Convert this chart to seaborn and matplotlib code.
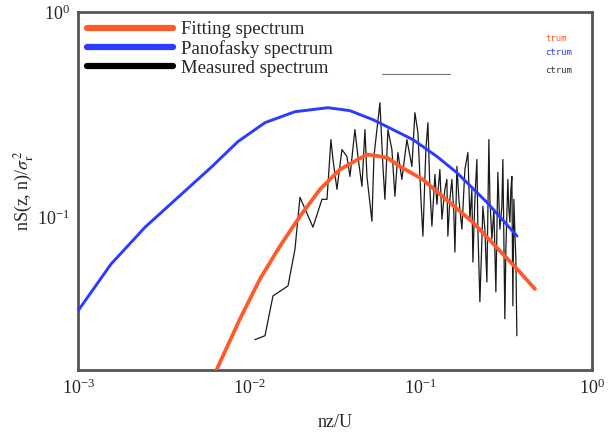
import numpy as np
import pandas as pd
import matplotlib
matplotlib.use('Agg')
import matplotlib.pyplot as plt
import seaborn as sns
from matplotlib.lines import Line2D

# gemeten spectrum (ruw)
meet_nz = [0.01079, 0.01235, 0.01375, 0.01683, 0.01849, 0.01977, 0.02355, 0.02658, 0.02843, 0.02999,
           0.03082, 0.03251, 0.03477, 0.03718, 0.03873, 0.0414, 0.04311, 0.0455, 0.04738, 0.04866,
           0.05204, 0.05346, 0.05794, 0.06034, 0.06198, 0.06454, 0.06808, 0.0709, 0.07379, 0.07786,
           0.08328, 0.0891, 0.09277, 0.09661, 0.1006, 0.1033, 0.1075, 0.1105, 0.1135, 0.1166,
           0.1214, 0.1247, 0.1298, 0.1334, 0.1388, 0.1426, 0.1445, 0.1485, 0.1525, 0.1567,
           0.1589, 0.1632, 0.1676, 0.1745, 0.1817, 0.1892, 0.1943, 0.1996, 0.2023, 0.2078,
           0.2135, 0.2164, 0.2223, 0.2284, 0.2314, 0.2377, 0.2442, 0.2509, 0.2543, 0.2612,
           0.2683, 0.2756, 0.2831, 0.2908, 0.2987, 0.3028, 0.311, 0.3153, 0.3238, 0.3283,
           0.3327, 0.3373, 0.3418, 0.3464, 0.3511, 0.3558, 0.3606, 0.3655]
meet_S = [0.0253, 0.02645, 0.04135, 0.04625, 0.06995, 0.1251, 0.08944, 0.1223, 0.1223, 0.2391,
          0.1912, 0.1368, 0.2138, 0.1978, 0.1581, 0.2675, 0.1978, 0.1414, 0.2675, 0.1581,
          0.09565, 0.1978, 0.3616, 0.1769, 0.1223, 0.2675, 0.2138, 0.1265, 0.2068, 0.1529,
          0.2391, 0.1769, 0.3234, 0.2587, 0.1223, 0.08088, 0.2138, 0.2892, 0.1368, 0.09046,
          0.1617, 0.1157, 0.171, 0.09781, 0.1368, 0.1529, 0.08088, 0.1223, 0.1529, 0.1034,
          0.06763, 0.1769, 0.1223, 0.08746, 0.171, 0.2068, 0.09781, 0.1368, 0.06047, 0.1223,
          0.1912, 0.08746, 0.03868, 0.07822, 0.1131, 0.08746, 0.04837, 0.2391, 0.1223, 0.07822,
          0.1094, 0.04325, 0.1654, 0.08746, 0.1131, 0.1912, 0.03198, 0.06995, 0.1529, 0.1094,
          0.09458, 0.1368, 0.1581, 0.03699, 0.1223, 0.0846, 0.06255, 0.02645]

# Panofsky spectrum
pano_nz = [0.001, 0.001558, 0.00246, 0.003835, 0.005976, 0.00859, 0.01235, 0.01849, 0.0288,
           0.03873, 0.0528, 0.0904, 0.1247, 0.163, 0.2442, 0.366]
pano_S = [0.035, 0.05913, 0.0894, 0.1251, 0.1749, 0.2339, 0.2892, 0.327, 0.342,
          0.3308, 0.299, 0.239, 0.1978, 0.165, 0.1183, 0.081]

# gefit spectrum
fit_nz = [0.006138, 0.006567, 0.00883, 0.01155, 0.01511, 0.01977, 0.02587, 0.03385, 0.04866,
          0.06368, 0.07581, 0.103, 0.202, 0.366, 0.466]
fit_S = [0.01636, 0.01871, 0.03198, 0.05002, 0.07234, 0.1011, 0.1368, 0.171, 0.2023,
         0.1956, 0.1769, 0.153, 0.0946, 0.056, 0.0447]

sns.set_style('white')
plt.rcParams['font.family'] = ['Liberation Serif', 'DejaVu Serif']
plt.rcParams['mathtext.fontset'] = 'stix'

fig = plt.figure(figsize=(6.1, 4.33), dpi=100)
ax = fig.add_axes([0.128, 0.1455, 0.842, 0.8265])

df_fit = pd.DataFrame({'nz': fit_nz, 'S': fit_S})
df_pano = pd.DataFrame({'nz': pano_nz, 'S': pano_S})
df_meet = pd.DataFrame({'nz': meet_nz, 'S': meet_S})

sns.lineplot(data=df_meet, x='nz', y='S', ax=ax, color='#1a1a1a', lw=0.9,
             estimator=None, sort=False, label='_meet', zorder=2)
sns.lineplot(data=df_pano, x='nz', y='S', ax=ax, color='#2a3cff', lw=2.1,
             estimator=None, sort=False, label='_pano', zorder=3)
sns.lineplot(data=df_fit, x='nz', y='S', ax=ax, color='#ff5a2a', lw=2.7,
             estimator=None, sort=False, label='_fit', zorder=4)

ax.set_xscale('log')
ax.set_yscale('log')
ax.set_xlim(1e-3, 1)
ax.set_ylim(0.018, 1)

# legenda met dikke lijnen
handles = [Line2D([], [], color='#ff5a2a', lw=4.5),
           Line2D([], [], color='#2a3cff', lw=4.5),
           Line2D([], [], color='black', lw=4.5)]
ax.legend(handles, ['Fitting spectrum', 'Panofasky spectrum', 'Measured spectrum'],
          loc='upper left', frameon=False, fontsize=13.5, handlelength=4.6,
          handletextpad=0.4, labelspacing=0.1, borderaxespad=0.1, borderpad=0.38)

# restjes van een tweede legenda rechtsboven
ax.text(0.909, 0.927, 'trum', transform=ax.transAxes, color='#ff5a2a',
        family='DejaVu Sans Mono', fontsize=6.5, va='center')
ax.text(0.909, 0.888, 'ctrum', transform=ax.transAxes, color='#2a3cff',
        family='DejaVu Sans Mono', fontsize=6.5, va='center')
ax.text(0.909, 0.838, 'ctrum', transform=ax.transAxes, color='#333333',
        family='DejaVu Sans Mono', fontsize=6.5, va='center')
ax.plot([0.591, 0.724], [0.827, 0.827], transform=ax.transAxes, color='#777777', lw=0.8)

ax.set_xlabel('nz/U', fontsize=13, labelpad=12)
ax.set_ylabel(r'nS(z, n)/$\sigma^2_{\rm r}$', fontsize=13, labelpad=1)
ax.tick_params(axis='both', which='both', length=0, labelsize=13, pad=6)
ax.minorticks_off()

for sp in ax.spines.values():
    sp.set_color('#555555')
    sp.set_linewidth(2)

plt.savefig('out.png', dpi=100)
